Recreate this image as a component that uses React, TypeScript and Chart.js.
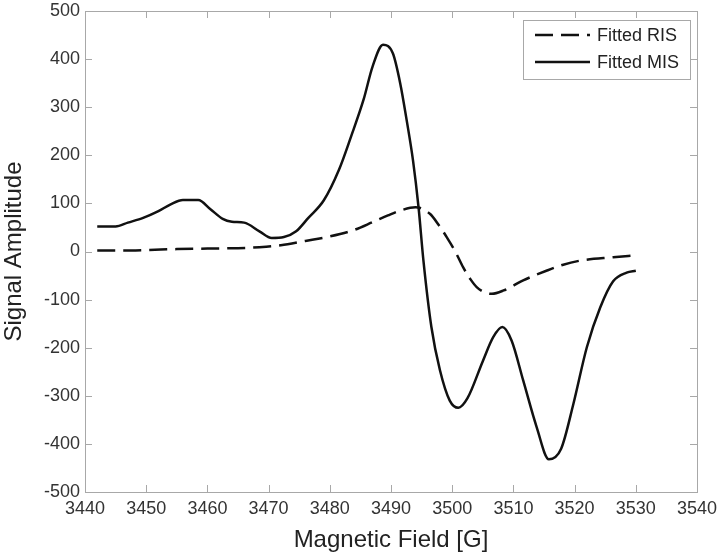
import React, { useEffect, useRef } from "react";
import { Chart, registerables } from "chart.js";

Chart.register(...registerables);

const xTicks = [3440, 3450, 3460, 3470, 3480, 3490, 3500, 3510, 3520, 3530, 3540];
const yTicks = [-500, -400, -300, -200, -100, 0, 100, 200, 300, 400, 500];

const misField = [3442, 3445, 3447, 3449.5, 3452, 3454, 3456, 3458.5, 3460.5, 3462.5, 3464, 3466, 3468.5, 3470.5, 3472.5, 3474.5, 3476.5, 3479, 3481.5, 3483.5, 3485.5, 3487, 3488.7, 3490.3, 3491.5, 3492.6, 3493.6, 3494.5, 3495.3, 3496.6, 3498, 3499.6, 3501, 3502.5, 3505, 3506.7, 3508.2, 3509.7, 3511.6, 3513.8, 3515.8, 3517.8, 3519.8, 3522, 3524.2, 3526.3, 3528.5, 3530];
const misValues = [52, 52, 60, 70, 84, 98, 107, 107, 88, 68, 62, 60, 42, 28, 30, 42, 70, 106, 170, 240, 315, 385, 430, 412, 350, 270, 189, 92, -19, -157, -247, -310, -325, -305, -228, -178, -157, -185, -268, -365, -432, -410, -317, -199, -116, -62, -44, -40];

const risField = [3442, 3446, 3450, 3455, 3460, 3465, 3468.5, 3472, 3476, 3479.5, 3483.8, 3487, 3489.5, 3491.5, 3494, 3496.4, 3497.8, 3499.1, 3500.5, 3501.8, 3503, 3504, 3505.5, 3506.5, 3508.4, 3511.6, 3515.4, 3518, 3520.9, 3526.3, 3530];
const risValues = [2, 2, 3, 5, 6, 7, 9, 13, 22, 30, 44, 61, 75, 85, 92, 78, 55, 30, 0, -33, -58, -74, -86, -88, -81, -60, -40, -28, -19, -12, -8];

const seriesLabels = ["Fitted RIS", "Fitted MIS"];

const FONT = "'Liberation Sans', Arial, Helvetica, sans-serif";
const LINE = "#111111";
const AXIS = "#a8a8a8";

const boxPlugin = {
  id: "boxTicks",
  beforeDatasetsDraw(chart: any) {
    const { ctx, chartArea: a, scales } = chart;
    ctx.save();
    ctx.strokeStyle = AXIS;
    ctx.lineWidth = 1;
    ctx.strokeRect(Math.round(a.left) + 0.5, Math.round(a.top) + 0.5, Math.round(a.right - a.left), Math.round(a.bottom - a.top));
    const tl = 7;
    ctx.beginPath();
    scales.x.ticks.forEach((t: any) => {
      const px = Math.round(scales.x.getPixelForValue(t.value)) + 0.5;
      ctx.moveTo(px, a.bottom);
      ctx.lineTo(px, a.bottom - tl);
      ctx.moveTo(px, a.top);
      ctx.lineTo(px, a.top + tl);
    });
    scales.y.ticks.forEach((t: any) => {
      const py = Math.round(scales.y.getPixelForValue(t.value)) + 0.5;
      ctx.moveTo(a.left, py);
      ctx.lineTo(a.left + tl, py);
      ctx.moveTo(a.right, py);
      ctx.lineTo(a.right - tl, py);
    });
    ctx.stroke();
    ctx.restore();
  },
  afterDraw(chart: any) {
    const { ctx, chartArea: a } = chart;
    const bx = a.right - 174;
    const by = a.top + 9;
    const bw = 167;
    const bh = 59;
    ctx.save();
    ctx.fillStyle = "#ffffff";
    ctx.fillRect(bx, by, bw, bh);
    ctx.strokeStyle = AXIS;
    ctx.lineWidth = 1;
    ctx.strokeRect(bx + 0.5, by + 0.5, bw, bh);
    chart.data.datasets.forEach((ds: any, i: number) => {
      const y = by + 15 + i * 27;
      ctx.beginPath();
      ctx.strokeStyle = ds.borderColor;
      ctx.lineWidth = ds.borderWidth;
      ctx.setLineDash(ds.borderDash || []);
      ctx.moveTo(bx + 12, y);
      ctx.lineTo(bx + 67, y);
      ctx.stroke();
      ctx.setLineDash([]);
      ctx.fillStyle = "#222";
      ctx.font = `18px ${FONT}`;
      ctx.textBaseline = "middle";
      ctx.textAlign = "left";
      ctx.fillText(ds.label, bx + 74, y + 1);
    });
    ctx.restore();
  },
};

export default function App() {
  const ref = useRef<HTMLCanvasElement | null>(null);
  useEffect(() => {
    if (!ref.current) return;
    const chart = new Chart(ref.current, {
      type: "line",
      data: {
        datasets: [
          {
            label: seriesLabels[0],
            data: risField.map((x, i) => ({ x, y: risValues[i] })),
            borderColor: LINE,
            borderWidth: 2.5,
            borderDash: [18, 8],
            pointRadius: 0,
            cubicInterpolationMode: "monotone",
            fill: false,
          },
          {
            label: seriesLabels[1],
            data: misField.map((x, i) => ({ x, y: misValues[i] })),
            borderColor: LINE,
            borderWidth: 2.5,
            pointRadius: 0,
            cubicInterpolationMode: "monotone",
            fill: false,
          },
        ],
      },
      options: {
        animation: false,
        responsive: false,
        layout: { padding: { left: 0, top: 11, right: 23, bottom: 0 } },
        plugins: { legend: { display: false }, tooltip: { enabled: false } },
        scales: {
          x: {
            type: "linear",
            min: xTicks[0],
            max: xTicks[xTicks.length - 1],
            afterBuildTicks: (s: any) => {
              s.ticks = xTicks.map((v) => ({ value: v }));
            },
            afterFit: (s: any) => {
              s.height = 64;
              s.paddingLeft = 0;
              s.paddingRight = 0;
            },
            grid: { display: false, drawTicks: false },
            border: { display: false },
            ticks: {
              autoSkip: false,
              maxRotation: 0,
              padding: 6,
              color: "#333",
              font: { family: FONT, size: 18 },
              callback: (v: any) => String(v),
            },
            title: {
              display: true,
              text: "Magnetic Field [G]",
              color: "#222",
              font: { family: FONT, size: 24 },
              padding: { top: 0, bottom: 1 },
            },
          },
          y: {
            type: "linear",
            min: yTicks[0],
            max: yTicks[yTicks.length - 1],
            afterBuildTicks: (s: any) => {
              s.ticks = yTicks.map((v) => ({ value: v }));
            },
            afterFit: (s: any) => {
              s.width = 85;
              s.paddingTop = 0;
              s.paddingBottom = 0;
            },
            grid: { display: false, drawTicks: false },
            border: { display: false },
            ticks: {
              autoSkip: false,
              padding: 5,
              color: "#333",
              font: { family: FONT, size: 18 },
              callback: (v: any) => String(v),
            },
            title: {
              display: true,
              text: "Signal Amplitude",
              color: "#222",
              font: { family: FONT, size: 24 },
              padding: { top: 0, bottom: 0 },
            },
          },
        },
      },
      plugins: [boxPlugin],
    } as any);
    return () => chart.destroy();
  }, []);
  return (
    <div style={{ position: "fixed", left: 0, top: 0, width: 720, height: 556, background: "#fff" }}>
      <canvas ref={ref} width={720} height={556} />
    </div>
  );
}
